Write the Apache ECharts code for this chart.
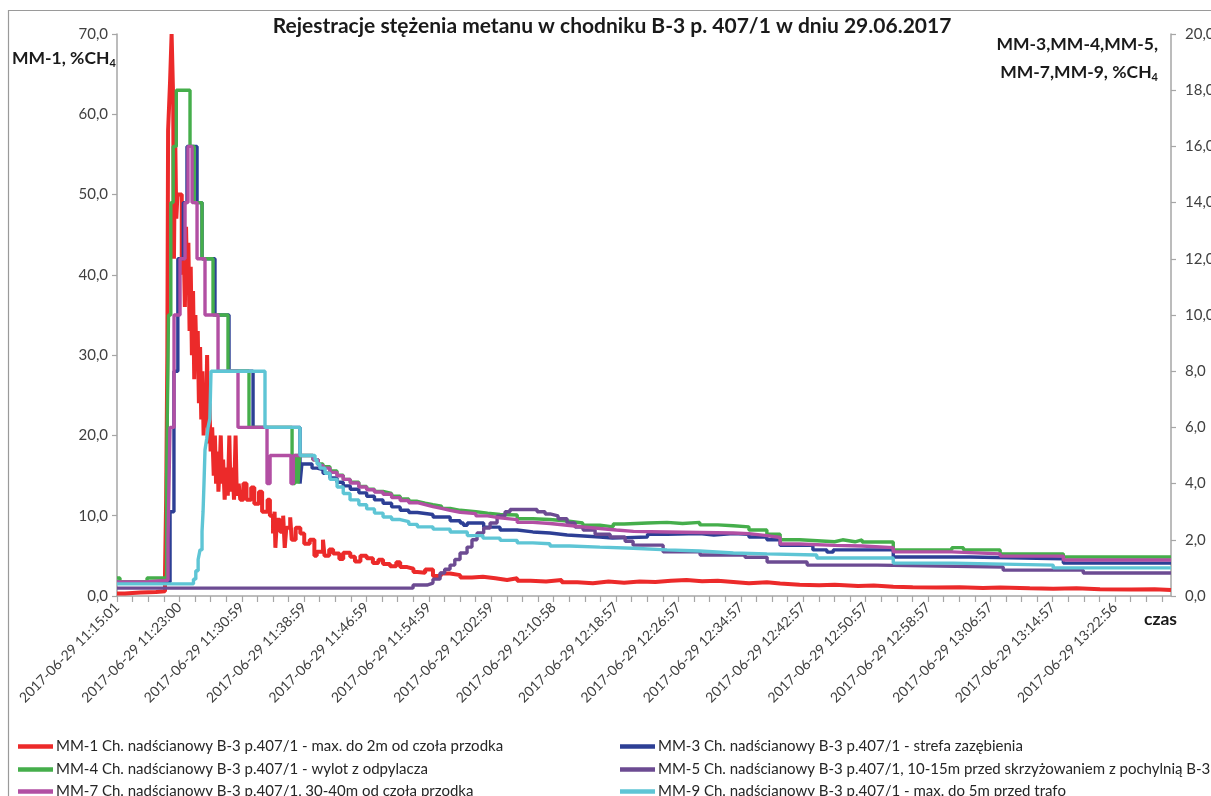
<!DOCTYPE html>
<html>
<head>
<meta charset="utf-8">
<script src="https://cdn.jsdelivr.net/npm/echarts@6/dist/echarts.min.js"></script>
<style>
  html, body { margin: 0; padding: 0; background: #fff; }
  #chart { width: 1211px; height: 796px; }
</style>
</head>
<body>
<div id="chart"></div>
<script>
// Methane concentration log, heading B-3 p.407/1, 29.06.2017.
// Time is counted in minutes from 11:15:01; one axis tick ≈ 2 min (119.94 s).
const FONT = 'Lato, "Open Sans", "DejaVu Sans", sans-serif';

const timeLabels = [
  '2017-06-29 11:15:01', '2017-06-29 11:23:00', '2017-06-29 11:30:59',
  '2017-06-29 11:38:59', '2017-06-29 11:46:59', '2017-06-29 11:54:59',
  '2017-06-29 12:02:59', '2017-06-29 12:10:58', '2017-06-29 12:18:57',
  '2017-06-29 12:26:57', '2017-06-29 12:34:57', '2017-06-29 12:42:57',
  '2017-06-29 12:50:57', '2017-06-29 12:58:57', '2017-06-29 13:06:57',
  '2017-06-29 13:14:57', '2017-06-29 13:22:56'
];
const TICK_STEP = 1.999;      // minutes between axis ticks
const LABEL_EVERY = 4;        // a time label on every 4th tick
const X_END = 135.1;          // last recorded minute

const seriesNames = [
  'MM-1 Ch. nadścianowy B-3 p.407/1 - max. do 2m od czoła przodka',
  'MM-3 Ch. nadścianowy B-3 p.407/1 - strefa zazębienia',
  'MM-4 Ch. nadścianowy B-3 p.407/1 - wylot z odpylacza',
  'MM-5 Ch. nadścianowy B-3 p.407/1, 10-15m przed skrzyżowaniem z pochylnią B-3',
  'MM-7 Ch. nadścianowy B-3 p.407/1, 30-40m od czoła przodka',
  'MM-9 Ch. nadścianowy B-3 p.407/1 - max. do 5m przed trafo'
];
const seriesColors = ['#EC2A2A', '#2D3F95', '#45AE4B', '#6C4B92', '#B24FA3', '#5EC5D5'];

// [minute, %CH4] — each reading holds until the next one
const mm1 = [
  [0, 0.3], [1.0, 0.45], [3.0, 0.5], [5.0, 0.6], [6.15, 2.5], [6.3, 12], [6.45, 30], [6.55, 58],
  [6.8, 64], [7.0, 70], [7.2, 62], [7.3, 42], [7.45, 58], [7.6, 47], [7.75, 50], [8.3, 40],
  [8.45, 49], [8.7, 36], [8.85, 46], [9.0, 38], [9.15, 44], [9.3, 33], [9.45, 41], [9.6, 30],
  [9.75, 38], [9.9, 27], [10.05, 35], [10.2, 29], [10.35, 33], [10.5, 24], [10.65, 31], [10.8, 22],
  [10.95, 28], [11.1, 20], [11.25, 26], [11.4, 21], [11.55, 30], [11.7, 19], [11.85, 24], [12.0, 18],
  [12.2, 21], [12.4, 15], [12.55, 20], [12.7, 14], [12.9, 18], [13.0, 13], [13.2, 17], [13.3, 20],
  [13.45, 14], [13.6, 17], [13.8, 12], [14.0, 16], [14.2, 12.5], [14.4, 20], [14.55, 13], [14.8, 16],
  [15.0, 12], [15.2, 20], [15.35, 12.5], [15.6, 14], [15.8, 12], [16.2, 14], [16.6, 12], [17.2, 13.5],
  [17.6, 11.5], [18.2, 13], [18.6, 10.5], [19.3, 12], [19.6, 10], [20.0, 7.8], [20.2, 10.5], [20.3, 6],
  [20.5, 9.5], [20.9, 8], [21.3, 10], [21.5, 6], [21.7, 8.5], [22.2, 9.8], [22.4, 7], [22.9, 8.5],
  [23.5, 7.8], [24.0, 6.5], [24.7, 7], [25.3, 5], [25.6, 5.5], [26.4, 7], [26.6, 5], [27.2, 5.8],
  [27.7, 5.3], [28.5, 4.6], [29.0, 5.4], [29.9, 4.9], [30.5, 4.3], [31.2, 5.0], [32.0, 4.7], [32.8, 4.1],
  [33.5, 4.5], [34.1, 4.0], [35.0, 3.7], [35.8, 4.2], [36.3, 3.6], [37.2, 3.4], [38.0, 3.0], [38.5, 2.9],
  [39.5, 3.3], [40.5, 2.5], [41.5, 2.8], [42.7, 2.6], [44.0, 2.3], [45.5, 2.4], [46.9, 2.2], [48.5, 2.0],
  [50.0, 2.2], [51.3, 1.9], [53.0, 1.8], [55.0, 2.0], [57.0, 1.7], [59.0, 1.6], [61.0, 1.8], [63.0, 1.65],
  [65.0, 1.8], [67.0, 1.75], [69.0, 1.9], [71.0, 2.0], [73.0, 1.85], [75.0, 1.9], [77.0, 1.75], [79.0, 1.6],
  [81.0, 1.7], [83.3, 1.55], [85.0, 1.4], [87.5, 1.35], [90.0, 1.4], [92.0, 1.25], [95.0, 1.3], [97.0, 1.15],
  [99.5, 1.1], [102, 1.05], [105, 1.1], [108, 1.0], [111, 1.05], [113.2, 0.95], [117, 0.9], [120, 0.95],
  [123, 0.85], [126, 0.8], [130, 0.85], [133, 0.75], [135.1, 0.75]
];

const mm3 = [
  [0, 0.5], [6.8, 3], [7.3, 8], [7.8, 12], [8.5, 14], [8.97, 16], [10.26, 14], [10.9, 12],
  [12.56, 10], [14.36, 8], [17.44, 6], [23.46, 4.0], [23.7, 4.7], [25.0, 4.55], [25.64, 4.5],
  [26.41, 4.37], [27.3, 4.2], [28.2, 4.05], [29.0, 3.92], [29.9, 3.8], [31.0, 3.67], [32.0, 3.55],
  [33.0, 3.42], [34.1, 3.3], [35.2, 3.17], [36.3, 3.05], [37.4, 2.97], [38.5, 2.9], [40.5, 2.81],
  [42.7, 2.68], [44.0, 2.6], [44.4, 2.52], [44.9, 2.6], [47.0, 2.45], [49.1, 2.35], [51.3, 2.28],
  [53.3, 2.24], [55.5, 2.17], [57.7, 2.1], [61.9, 2.06], [63.5, 2.1], [68.0, 2.2], [70.5, 2.22],
  [74.7, 2.17], [76.5, 2.22], [79.0, 2.2], [81.0, 2.1], [83.3, 2.0], [85.0, 1.8], [89.2, 1.64],
  [91.0, 1.56], [91.8, 1.64], [99.5, 1.39], [109.4, 1.32], [121.3, 1.17], [135.1, 1.17]
];

const mm4 = [
  [0, 0.64], [0.38, 0.5], [3.85, 0.64], [6.35, 4.0], [6.6, 10], [6.9, 14], [7.2, 16], [7.6, 18],
  [9.36, 16], [9.9, 14], [10.9, 12], [12.31, 10], [14.23, 8], [16.92, 6], [22.44, 4], [22.8, 5],
  [23.2, 4], [23.4, 5], [25.1, 4.85], [25.8, 4.7], [26.4, 4.6], [27.3, 4.45], [28.2, 4.3], [29.0, 4.15],
  [29.9, 4.05], [31.0, 3.9], [32.0, 3.8], [33.0, 3.72], [34.1, 3.65], [35.2, 3.55], [36.3, 3.45],
  [37.4, 3.37], [38.5, 3.3], [39.5, 3.25], [40.5, 3.2], [41.6, 3.12], [42.7, 3.05], [44.0, 3.0],
  [46.0, 2.95], [47.5, 2.9], [49.1, 2.88], [51.3, 2.75], [53.3, 2.72], [55.5, 2.67], [57.7, 2.6],
  [59.7, 2.52], [61.9, 2.46], [63.6, 2.56], [65.0, 2.6], [68.0, 2.62], [70.5, 2.58], [72.5, 2.62],
  [74.7, 2.53], [77.0, 2.5], [79.0, 2.46], [81.0, 2.35], [83.3, 2.2], [85.0, 2.0], [87.5, 1.93],
  [92.0, 2.0], [93.0, 1.93], [94.6, 2.0], [95.5, 1.92], [99.5, 1.64], [107.0, 1.72], [108.5, 1.64],
  [113.2, 1.5], [121.3, 1.39], [135.1, 1.39]
];

const mm5 = [
  [0, 0.28], [34.0, 0.34], [34.2, 0.28], [37.95, 0.39], [39.74, 0.46], [40.5, 0.6], [41.41, 0.82],
  [42.0, 0.95], [42.69, 1.1], [43.3, 1.3], [43.97, 1.53], [44.87, 1.74], [45.5, 2.0], [46.15, 2.24],
  [47.0, 2.42], [47.82, 2.6], [48.72, 2.85], [49.74, 3.0], [50.38, 3.08], [53.85, 3.0], [54.87, 2.92],
  [55.51, 2.85], [56.54, 2.75], [57.69, 2.6], [58.72, 2.45], [59.74, 2.35], [61.28, 2.2], [63.21, 2.1],
  [65.13, 1.95], [66.15, 1.81], [70.0, 1.57], [74.74, 1.46], [80.5, 1.38], [83.33, 1.21], [88.46, 1.1],
  [97.44, 1.03], [113.59, 0.92], [123.85, 0.82], [135.1, 0.82]
];

const mm7 = [
  [0, 0.5], [3.85, 0.56], [6.54, 2], [6.79, 6], [7.31, 10], [8.08, 12], [8.72, 14], [9.1, 16],
  [9.62, 14], [10.26, 12], [11.28, 10], [12.95, 8], [15.51, 6], [19.23, 4], [19.62, 5], [22.3, 4],
  [22.6, 5], [25.13, 4.85], [25.8, 4.65], [26.4, 4.55], [27.3, 4.4], [28.2, 4.28], [29.0, 4.15],
  [29.9, 4.02], [31.0, 3.88], [32.0, 3.78], [33.0, 3.7], [34.1, 3.62], [35.2, 3.5], [36.3, 3.4],
  [37.4, 3.32], [38.5, 3.25], [39.5, 3.18], [40.5, 3.12], [41.6, 3.05], [42.7, 2.98], [44.0, 2.93],
  [46.0, 2.85], [47.5, 2.78], [49.1, 2.72], [51.3, 2.62], [53.3, 2.58], [55.5, 2.52], [57.7, 2.46],
  [59.7, 2.4], [61.9, 2.35], [64.0, 2.3], [66.2, 2.28], [70.5, 2.26], [74.7, 2.24], [79.0, 2.22],
  [81.0, 2.15], [83.3, 2.08], [85.0, 1.85], [87.5, 1.8], [92.0, 1.78], [95.5, 1.72], [99.5, 1.57],
  [107.0, 1.5], [113.2, 1.42], [121.3, 1.28], [135.1, 1.28]
];

const mm9 = [
  [0, 0.43], [9.8, 0.6], [10.1, 0.9], [10.4, 1.3], [10.64, 1.64], [10.9, 2.3], [11.03, 3.0],
  [11.15, 4.0], [11.28, 5.2], [11.5, 5.6], [11.67, 6.0], [11.9, 6.3], [12.05, 8.0], [18.97, 6.0],
  [23.46, 5.0], [25.38, 4.85], [25.64, 4.7], [26.0, 4.55], [26.67, 4.37], [27.3, 4.15], [28.21, 3.88],
  [29.0, 3.65], [29.87, 3.42], [31.0, 3.25], [32.0, 3.1], [33.0, 2.95], [34.1, 2.81], [35.2, 2.72],
  [36.3, 2.65], [37.4, 2.55], [38.5, 2.46], [40.5, 2.38], [42.7, 2.28], [44.9, 2.15], [46.9, 2.06],
  [49.1, 1.98], [51.3, 1.89], [53.3, 1.86], [55.5, 1.78], [58.0, 1.74], [61.9, 1.7], [66.2, 1.64],
  [70.5, 1.6], [74.7, 1.53], [79.0, 1.5], [83.3, 1.46], [89.7, 1.35], [99.5, 1.17], [107.2, 1.1],
  [120.0, 1.0], [135.1, 1.0]
];

// drawing order: MM-1 on the left scale underneath, the rest on the right scale
const seriesData = [mm1, mm3, mm4, mm5, mm7, mm9];
const seriesAxis = [0, 1, 1, 1, 1, 1];

// legend layout: two columns, three rows (series index per slot)
const legendSlots = [
  { idx: 0, left: 18, top: 739 }, { idx: 1, left: 620, top: 739 },
  { idx: 2, left: 18, top: 762 }, { idx: 3, left: 620, top: 762 },
  { idx: 4, left: 18, top: 784 }, { idx: 5, left: 620, top: 784 }
];

const comma1 = v => v.toFixed(1).replace('.', ',');
const axisGray = '#A6A6A6';
const tickText = { color: '#404040', fontFamily: FONT, fontSize: 15 };

const chart = echarts.init(document.getElementById('chart'), null, { renderer: 'canvas' });

chart.setOption({
  animation: false,
  backgroundColor: '#fff',
  grid: { left: 117, right: 40, top: 34, bottom: 200, containLabel: false, outerBoundsMode: 'none' },
  xAxis: {
    type: 'value',
    min: 0,
    max: X_END,
    interval: TICK_STEP,
    axisLine: { show: true, lineStyle: { color: axisGray, width: 1.5 } },
    axisTick: { show: true, inside: false, length: 6, lineStyle: { color: axisGray, width: 1.2 } },
    splitLine: { show: false },
    axisLabel: {
      rotate: 45,
      margin: 9,
      ...tickText,
      fontSize: 14,
      showMaxLabel: false,
      formatter: v => {
        const i = Math.round(v / TICK_STEP);
        if (i % LABEL_EVERY !== 0) return '';
        return timeLabels[i / LABEL_EVERY] || '';
      }
    }
  },
  yAxis: [
    {
      type: 'value', min: 0, max: 70, interval: 10, position: 'left',
      axisLine: { show: true, lineStyle: { color: axisGray, width: 1.5 } },
      axisTick: { show: true, length: 5, lineStyle: { color: axisGray, width: 1.2 } },
      splitLine: { show: false },
      axisLabel: { ...tickText, margin: 9, formatter: comma1 }
    },
    {
      type: 'value', min: 0, max: 20, interval: 2, position: 'right',
      axisLine: { show: true, lineStyle: { color: axisGray, width: 1.5 } },
      axisTick: { show: true, length: 5, lineStyle: { color: axisGray, width: 1.2 } },
      splitLine: { show: false },
      axisLabel: { ...tickText, margin: 14, formatter: comma1 }
    }
  ],
  legend: legendSlots.map(s => ({
    data: [seriesNames[s.idx]],
    left: s.left, top: s.top, padding: 0,
    itemWidth: 35, itemHeight: 4.5, icon: 'rect', itemGap: 0,
    textStyle: { color: '#262626', fontFamily: FONT, fontSize: 15, padding: [0, 0, 0, -2] }
  })),
  graphic: [
    {
      type: 'rect', silent: true, z: -1,
      shape: { x: 8.5, y: 10.5, width: 1250, height: 820 },
      style: { fill: 'none', stroke: '#9A9A9A', lineWidth: 1.2 }
    },
    {
      type: 'text', x: 612, y: 16,
      style: {
        text: 'Rejestracje stężenia metanu w chodniku B-3 p. 407/1 w dniu 29.06.2017',
        align: 'center',
        font: 'bold 21px ' + FONT, fill: '#1a1a1a'
      }
    },
    {
      type: 'text', x: 12, y: 48,
      style: {
        text: 'MM-1, %CH{s|4}',
        font: 'bold 17.5px ' + FONT, fill: '#1a1a1a',
        rich: { s: { fontSize: 11, fontWeight: 'bold', fontFamily: FONT, padding: [10, 0, 0, 0] } }
      }
    },
    {
      type: 'text', x: 1158, y: 35,
      style: {
        text: 'MM-3,MM-4,MM-5,', align: 'right',
        font: 'bold 17.5px ' + FONT, fill: '#1a1a1a'
      }
    },
    {
      type: 'text', x: 1158, y: 62,
      style: {
        text: 'MM-7,MM-9, %CH{s|4}', align: 'right',
        font: 'bold 17.5px ' + FONT, fill: '#1a1a1a',
        rich: { s: { fontSize: 11, fontWeight: 'bold', fontFamily: FONT, padding: [10, 0, 0, 0] } }
      }
    },
    {
      type: 'text', x: 1144, y: 610,
      style: { text: 'czas', font: 'bold 17.5px ' + FONT, fill: '#1a1a1a' }
    }
  ],
  series: seriesData.map((d, i) => ({
    name: seriesNames[i],
    type: 'line',
    step: 'end',
    yAxisIndex: seriesAxis[i],
    data: d,
    showSymbol: false,
    symbol: 'none',
    color: seriesColors[i],
    lineStyle: { color: seriesColors[i], width: i === 0 ? 4 : 3.4 },
    emphasis: { disabled: true }
  }))
});
</script>
</body>
</html>
